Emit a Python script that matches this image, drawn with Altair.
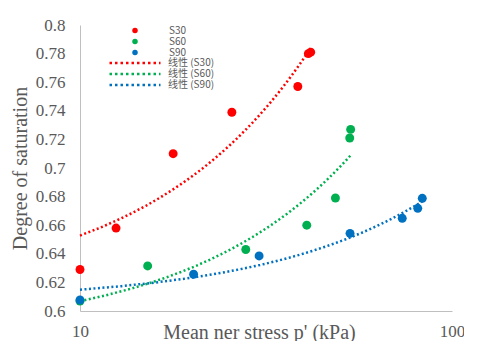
import altair as alt
import pandas as pd

series = ["S30", "S60", "S90"]
trend_labels = ["线性 (S30)", "线性 (S60)", "线性 (S90)"]
colors = ["#FF0000", "#00B050", "#0070C0"]

s30_p = [10, 12.5, 17.8, 25.6, 38.5, 41.1, 41.7]
s30_s = [0.629, 0.658, 0.710, 0.739, 0.757, 0.780, 0.781]
s60_p = [10, 15.2, 27.9, 40.7, 48.6, 53.1, 53.4]
s60_s = [0.607, 0.6315, 0.643, 0.660, 0.679, 0.721, 0.727]
s90_p = [10, 20.2, 30.3, 53.2, 73.5, 80.9, 83.2]
s90_s = [0.6077, 0.6257, 0.6385, 0.6543, 0.6648, 0.6718, 0.6788]

y_ticks = [0.6, 0.62, 0.64, 0.66, 0.68, 0.7, 0.72, 0.74, 0.76, 0.78, 0.8]
x_ticks = [10, 100]

rows = []
for name, xs, ys in [("S30", s30_p, s30_s), ("S60", s60_p, s60_s), ("S90", s90_p, s90_s)]:
    for x, y in zip(xs, ys):
        rows.append({"series": name, "p": x, "s": y})
df = pd.DataFrame(rows)

serif = "Liberation Serif"
gray = "#595959"

x_enc = alt.X(
    "p:Q",
    scale=alt.Scale(type="log", domain=[10, 100], nice=False),
    axis=alt.Axis(
        values=x_ticks, format="d", title="Mean ner stress p' (kPa)",
        grid=False, ticks=False, tickSize=0, labelPadding=12, labelFlush=False,
        titleY=21, titleX=179, titleBaseline="middle",
    ),
)
y_enc = alt.Y(
    "s:Q",
    scale=alt.Scale(domain=[0.6, 0.8], nice=False, zero=False),
    axis=alt.Axis(
        values=y_ticks, format=".2~f", title="Degree of saturation",
        grid=False, ticks=False, tickSize=0, labelPadding=15,
        titleX=-60, titleY=143, titleBaseline="middle", titleAngle=-90,
    ),
)

legend_common = dict(
    title=None, orient="none", rowPadding=0, padding=0,
    labelFont="Noto Sans CJK SC", labelFontSize=10, labelColor=gray,
    labelBaseline="middle", clipHeight=11,
)

trend = (
    alt.Chart(df)
    .transform_regression("p", "s", method="poly", order=1, groupby=["series"])
    .transform_calculate(trend="'线性 (' + datum.series + ')'")
    .mark_line(strokeDash=[2, 2.5], strokeWidth=2.5)
    .encode(
        x=x_enc,
        y=y_enc,
        color=alt.Color(
            "trend:N",
            scale=alt.Scale(domain=trend_labels, range=colors),
            legend=alt.Legend(
                legendX=28, legendY=32.5,
                symbolType="stroke", symbolSize=2601, symbolStrokeWidth=2.5,
                symbolDash=[2.5, 3], labelOffset=6, **legend_common,
            ),
        ),
    )
)

points = (
    alt.Chart(df)
    .mark_circle(size=80, opacity=1)
    .encode(
        x=x_enc,
        y=y_enc,
        color=alt.Color(
            "series:N",
            scale=alt.Scale(domain=series, range=colors),
            legend=alt.Legend(
                legendX=50, legendY=0,
                symbolType="circle", symbolSize=30, symbolStrokeWidth=0,
                labelOffset=29, **legend_common,
            ),
        ),
        order=alt.Order("series:N"),
    )
)

chart = (
    alt.layer(trend, points)
    .resolve_scale(color="independent")
    .properties(
        width=372, height=286,
        autosize=alt.AutoSizeParams(type="none"),
        padding={"left": 72, "top": 17, "right": 12, "bottom": 30},
        background="white",
    )
    .configure_view(stroke=None)
    .configure_axis(
        domainColor="#BFBFBF", domainWidth=1,
        labelFont=serif, labelFontSize=17, labelColor=gray,
        titleFont=serif, titleFontSize=20, titleColor=gray, titleFontWeight="normal",
    )
)

chart.save("out.html", embed_options={"renderer": "svg", "actions": False})
